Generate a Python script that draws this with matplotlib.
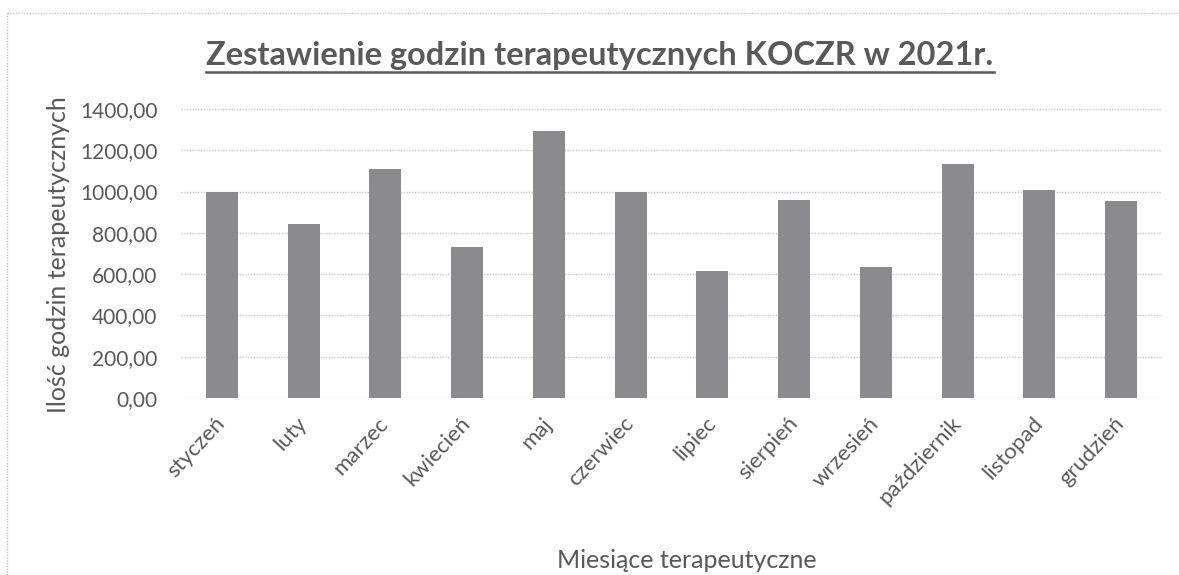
import matplotlib
matplotlib.use("Agg")
import matplotlib.pyplot as plt
from matplotlib.lines import Line2D
from matplotlib.ticker import FuncFormatter

months = ["styczeń", "luty", "marzec", "kwiecień", "maj", "czerwiec", "lipiec",
          "sierpień", "wrzesień", "październik", "listopad", "grudzień"]
hours = [998, 845, 1111, 731, 1294, 997, 616, 960, 636, 1133, 1008, 955]
yticks = [0, 200, 400, 600, 800, 1000, 1200, 1400]

title = "Zestawienie godzin terapeutycznych KOCZR w 2021r."
xlabel = "Miesiące terapeutyczne"
ylabel = "Ilość godzin terapeutycznych"

plt.rcParams['font.family'] = ['Lato', 'DejaVu Sans']
txt = "#595959"
W, H = 1179, 575

fig = plt.figure(figsize=(W/100, H/100), dpi=100)
fig.patch.set_facecolor("white")
ax = fig.add_axes([181/W, 1-398/H, (1162-181)/W, (398-109)/H])

x = range(len(months))
ax.bar(x, hours, width=0.39, color="#8b8a8f", zorder=3)
ax.set_xlim(-0.5, len(months)-0.5)
ax.set_ylim(0, 1400)
ax.set_yticks(yticks)
ax.yaxis.set_major_formatter(FuncFormatter(lambda v, p: f"{v:.2f}".replace(".", ",")))
ax.set_xticks(list(x))
ax.set_xticklabels(months, rotation=47, ha="right", va="center", rotation_mode="anchor")
ax.tick_params(axis="both", length=0, labelcolor=txt)
ax.tick_params(axis="y", pad=17, labelsize=15)
ax.tick_params(axis="x", pad=16, labelsize=16)
ax.grid(axis="y", color="#c8c8c8", linestyle=(0, (1, 1)), linewidth=1, zorder=0)
for s in ax.spines.values():
    s.set_visible(False)

fig.text(59/W, 1-255/H, ylabel, rotation=90, ha="center", va="center",
         fontsize=18, color=txt)
fig.text(687/W, 1-560/H, xlabel, ha="center", va="center",
         fontsize=18, color=txt)

t = fig.text(600/W, 1-65/H, title, ha="center", va="baseline",
             fontsize=23.5, fontweight="bold", color=txt)

# outer chart border (top and left edges visible)
border = dict(transform=fig.transFigure, color="#c8c8c8", linestyle=(0, (1, 1)), linewidth=1)
fig.add_artist(Line2D([7/W, 1.0], [1-13/H, 1-13/H], **border))
fig.add_artist(Line2D([7/W, 7/W], [0.0, 1-13/H], **border))

# underline title
fig.canvas.draw()
bb = t.get_window_extent(fig.canvas.get_renderer())
inv = fig.transFigure.inverted()
(x0, _), (x1, _) = inv.transform([(bb.x0, bb.y0), (bb.x1, bb.y1)])
fig.add_artist(Line2D([x0, x1], [1-72/H, 1-72/H], transform=fig.transFigure,
                      color=txt, linewidth=1.8))

fig.savefig("out.png", dpi=100)
